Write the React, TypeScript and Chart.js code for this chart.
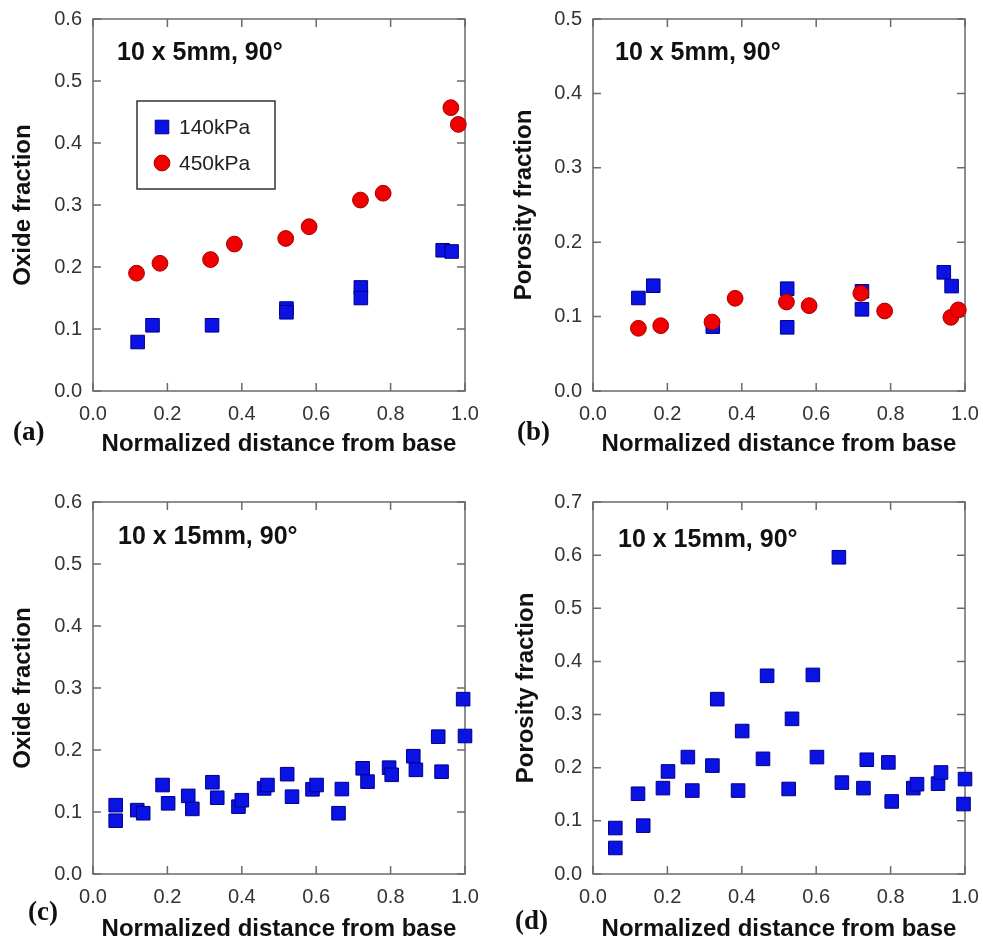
import React, { useEffect, useRef } from 'react';
import { Chart, registerables } from 'chart.js';

Chart.register(...registerables);

// ---------- data ----------
const SERIES_140 = '140kPa';
const SERIES_450 = '450kPa';
const X_TITLE = 'Normalized distance from base';
const OXIDE_TITLE = 'Oxide fraction';
const POROSITY_TITLE = 'Porosity fraction';
const NOTE_5MM = '10 x 5mm, 90°';
const NOTE_15MM = '10 x 15mm, 90°';

// (a) oxide fraction, 10 x 5mm
const A_140_X = [0.12, 0.16, 0.32, 0.52, 0.52, 0.72, 0.72, 0.94, 0.964];
const A_140_Y = [0.079, 0.106, 0.106, 0.133, 0.127, 0.167, 0.15, 0.227, 0.225];
const A_450_X = [0.117, 0.18, 0.316, 0.38, 0.518, 0.581, 0.719, 0.78, 0.962, 0.982];
const A_450_Y = [0.19, 0.206, 0.212, 0.237, 0.246, 0.265, 0.308, 0.319, 0.457, 0.43];

// (b) porosity fraction, 10 x 5mm
const B_140_X = [0.122, 0.162, 0.322, 0.522, 0.522, 0.723, 0.723, 0.943, 0.964];
const B_140_Y = [0.125, 0.1415, 0.0865, 0.1375, 0.0856, 0.134, 0.1098, 0.1595, 0.141];
const B_450_X = [0.122, 0.182, 0.32, 0.382, 0.52, 0.581, 0.72, 0.784, 0.962, 0.982];
const B_450_Y = [0.0843, 0.0878, 0.0927, 0.1246, 0.1196, 0.1147, 0.1313, 0.1075, 0.099, 0.109];

// (c) oxide fraction, 10 x 15mm
const C_X = [0.061, 0.061, 0.119, 0.135, 0.187, 0.202, 0.256, 0.267, 0.321, 0.334, 0.391, 0.4, 0.46, 0.469, 0.522, 0.535, 0.59, 0.601, 0.66, 0.669, 0.725, 0.738, 0.796, 0.803, 0.861, 0.868, 0.928, 0.937, 0.995, 1.0];
const C_Y = [0.111, 0.086, 0.103, 0.098, 0.1435, 0.114, 0.126, 0.105, 0.148, 0.123, 0.1086, 0.119, 0.138, 0.1435, 0.161, 0.1247, 0.1366, 0.1435, 0.098, 0.137, 0.1705, 0.149, 0.1715, 0.16, 0.19, 0.168, 0.2215, 0.165, 0.282, 0.2226];

// (d) porosity fraction, 10 x 15mm
const D_X = [0.06, 0.06, 0.121, 0.135, 0.188, 0.2016, 0.255, 0.267, 0.321, 0.334, 0.39, 0.401, 0.457, 0.468, 0.526, 0.535, 0.591, 0.602, 0.661, 0.669, 0.727, 0.736, 0.794, 0.803, 0.861, 0.871, 0.9275, 0.9355, 1.0, 0.996];
const D_Y = [0.0865, 0.049, 0.151, 0.091, 0.1616, 0.193, 0.22, 0.157, 0.204, 0.329, 0.157, 0.269, 0.2167, 0.373, 0.16, 0.292, 0.3746, 0.22, 0.596, 0.172, 0.1616, 0.215, 0.21, 0.1365, 0.1616, 0.169, 0.17, 0.191, 0.1786, 0.1316];

// ---------- styles ----------
const SANS = '"Liberation Sans", Arial, Helvetica, sans-serif';
const SERIF = '"Liberation Serif", "Times New Roman", serif';

const SQUARE_STYLE = {
  pointStyle: 'rect',
  pointRadius: 9.6,
  pointBackgroundColor: '#0b12e4',
  pointBorderColor: '#00008a',
  pointBorderWidth: 1,
};
const CIRCLE_STYLE = {
  pointStyle: 'circle',
  pointRadius: 7.9,
  pointBackgroundColor: '#f20000',
  pointBorderColor: '#a00000',
  pointBorderWidth: 1,
};

const zip = (xs: number[], ys: number[]) => xs.map((x, i) => ({ x, y: ys[i] }));

type PanelDef = {
  key: string;
  left: number;
  top: number;
  w: number;
  h: number;
  padTop: number;
  padRight: number;
  yWidth: number;
  xHeight: number;
  yMax: number;
  yTitle: string;
  yTitlePad: number;
  xTitlePad: number;
  note: string;
  noteDx: number;
  noteDy: number;
  tag: string;
  tagDx: number;
  tagDy: number;
  legend: boolean;
  datasets: any[];
};

const PANELS: PanelDef[] = [
  {
    key: 'a', left: 0, top: 0, w: 490, h: 470, padTop: 19, padRight: 25, yWidth: 93, xHeight: 79,
    yMax: 0.6, yTitle: OXIDE_TITLE, yTitlePad: 9, xTitlePad: 11,
    note: NOTE_5MM, noteDx: 24, noteDy: 34, tag: '(a)', tagDx: -80, tagDy: 42, legend: true,
    datasets: [
      { label: SERIES_140, data: zip(A_140_X, A_140_Y), order: 2, ...SQUARE_STYLE },
      { label: SERIES_450, data: zip(A_450_X, A_450_Y), order: 1, ...CIRCLE_STYLE },
    ],
  },
  {
    key: 'b', left: 490, top: 0, w: 493, h: 470, padTop: 19, padRight: 18, yWidth: 103, xHeight: 79,
    yMax: 0.5, yTitle: POROSITY_TITLE, yTitlePad: 20, xTitlePad: 11,
    note: NOTE_5MM, noteDx: 22, noteDy: 34, tag: '(b)', tagDx: -76, tagDy: 42, legend: false,
    datasets: [
      { label: SERIES_140, data: zip(B_140_X, B_140_Y), order: 2, ...SQUARE_STYLE },
      { label: SERIES_450, data: zip(B_450_X, B_450_Y), order: 1, ...CIRCLE_STYLE },
    ],
  },
  {
    key: 'c', left: 0, top: 470, w: 490, h: 474, padTop: 32, padRight: 25, yWidth: 93, xHeight: 70,
    yMax: 0.6, yTitle: OXIDE_TITLE, yTitlePad: 9, xTitlePad: 0,
    note: NOTE_15MM, noteDx: 25, noteDy: 35, tag: '(c)', tagDx: -65, tagDy: 39, legend: false,
    datasets: [
      { label: SERIES_140, data: zip(C_X, C_Y), order: 1, ...SQUARE_STYLE },
    ],
  },
  {
    key: 'd', left: 490, top: 470, w: 493, h: 474, padTop: 32, padRight: 18, yWidth: 103, xHeight: 70,
    yMax: 0.7, yTitle: POROSITY_TITLE, yTitlePad: 22, xTitlePad: 0,
    note: NOTE_15MM, noteDx: 25, noteDy: 38, tag: '(d)', tagDx: -78, tagDy: 48, legend: false,
    datasets: [
      { label: SERIES_140, data: zip(D_X, D_Y), order: 1, ...SQUARE_STYLE },
    ],
  },
];

const drawMarker = (ctx: CanvasRenderingContext2D, ds: any, x: number, y: number) => {
  const r = ds.pointRadius;
  ctx.save();
  ctx.fillStyle = ds.pointBackgroundColor;
  ctx.strokeStyle = ds.pointBorderColor;
  ctx.lineWidth = ds.pointBorderWidth;
  ctx.beginPath();
  if (ds.pointStyle === 'rect') {
    const s = r * Math.SQRT1_2;
    ctx.rect(x - s, y - s, 2 * s, 2 * s);
  } else {
    ctx.arc(x, y, r, 0, Math.PI * 2);
  }
  ctx.fill();
  ctx.stroke();
  ctx.restore();
};

const decorPlugin = {
  id: 'decor',
  beforeDatasetsDraw(chart: any) {
    const { ctx, chartArea: a, scales } = chart;
    ctx.save();
    ctx.strokeStyle = '#6a6a6a';
    ctx.lineWidth = 1.5;
    ctx.strokeRect(a.left, a.top, a.right - a.left, a.bottom - a.top);
    const TL = 8;
    ctx.beginPath();
    for (const t of scales.x.ticks) {
      const px = scales.x.getPixelForValue(t.value);
      ctx.moveTo(px, a.bottom);
      ctx.lineTo(px, a.bottom - TL);
      ctx.moveTo(px, a.top);
      ctx.lineTo(px, a.top + TL);
    }
    for (const t of scales.y.ticks) {
      const py = scales.y.getPixelForValue(t.value);
      ctx.moveTo(a.left, py);
      ctx.lineTo(a.left + TL, py);
      ctx.moveTo(a.right, py);
      ctx.lineTo(a.right - TL, py);
    }
    ctx.stroke();
    ctx.restore();
  },
  afterDraw(chart: any, _args: any, opts: any) {
    const { ctx, chartArea: a } = chart;
    ctx.save();
    // inner note
    ctx.fillStyle = '#111';
    ctx.font = `bold 25px ${SANS}`;
    ctx.textAlign = 'left';
    ctx.textBaseline = 'middle';
    ctx.fillText(opts.note, a.left + opts.noteDx, a.top + opts.noteDy);
    // panel tag
    ctx.font = `bold 27px ${SERIF}`;
    ctx.fillText(opts.tag, a.left + opts.tagDx, a.bottom + opts.tagDy);
    // legend box
    if (opts.legend) {
      const bx = a.left + 44;
      const by = a.top + 82;
      const bw = 138;
      const bh = 88;
      ctx.strokeStyle = '#333';
      ctx.lineWidth = 1.5;
      ctx.strokeRect(bx, by, bw, bh);
      ctx.font = `21px ${SANS}`;
      chart.data.datasets.forEach((ds: any, i: number) => {
        const cy = by + 26 + i * 36;
        drawMarker(ctx, ds, bx + 25, cy);
        ctx.fillStyle = '#222';
        ctx.fillText(ds.label, bx + 42, cy + 1);
      });
    }
    ctx.restore();
  },
};

function Panel({ def }: { def: PanelDef }) {
  const ref = useRef<HTMLCanvasElement | null>(null);
  useEffect(() => {
    if (!ref.current) return;
    const tickFont = { family: SANS, size: 20 };
    const titleFont = { family: SANS, size: 24, weight: 'bold' as const };
    const chart = new Chart(ref.current, {
      type: 'scatter',
      data: { datasets: def.datasets.map((d) => ({ ...d, clip: false })) },
      plugins: [decorPlugin],
      options: {
        animation: false,
        responsive: false,
        maintainAspectRatio: false,
        layout: { padding: { top: def.padTop, right: def.padRight, left: 0, bottom: 0 } },
        plugins: {
          legend: { display: false },
          tooltip: { enabled: false },
          decor: {
            note: def.note, noteDx: def.noteDx, noteDy: def.noteDy,
            tag: def.tag, tagDx: def.tagDx, tagDy: def.tagDy, legend: def.legend,
          },
        } as any,
        scales: {
          x: {
            type: 'linear',
            min: 0,
            max: 1,
            grid: { display: false, drawTicks: false },
            border: { display: false },
            ticks: {
              stepSize: 0.2,
              padding: 11,
              color: '#333',
              font: tickFont,
              maxRotation: 0,
              callback: (v: any) => Number(v).toFixed(1),
            },
            title: { display: true, text: X_TITLE, color: '#111', font: titleFont, padding: { top: 0, bottom: def.xTitlePad } },
            afterFit: (s: any) => {
              s.height = def.xHeight;
              s.paddingLeft = 0;
              s.paddingRight = 0;
            },
          },
          y: {
            type: 'linear',
            min: 0,
            max: def.yMax,
            grid: { display: false, drawTicks: false },
            border: { display: false },
            ticks: {
              stepSize: 0.1,
              padding: 11,
              color: '#333',
              font: tickFont,
              callback: (v: any) => Number(v).toFixed(1),
            },
            title: { display: true, text: def.yTitle, color: '#111', font: titleFont, padding: { top: def.yTitlePad, bottom: 0 } },
            afterFit: (s: any) => {
              s.width = def.yWidth;
              s.paddingTop = 0;
              s.paddingBottom = 0;
            },
          },
        },
      },
    });
    return () => chart.destroy();
  }, [def]);
  return (
    <canvas
      ref={ref}
      width={def.w}
      height={def.h}
      style={{ position: 'absolute', left: def.left, top: def.top, width: def.w, height: def.h }}
    />
  );
}

export default function App() {
  return (
    <div style={{ position: 'absolute', left: 0, top: 0, width: 983, height: 944, background: '#fff' }}>
      {PANELS.map((p) => (
        <Panel key={p.key} def={p} />
      ))}
    </div>
  );
}
